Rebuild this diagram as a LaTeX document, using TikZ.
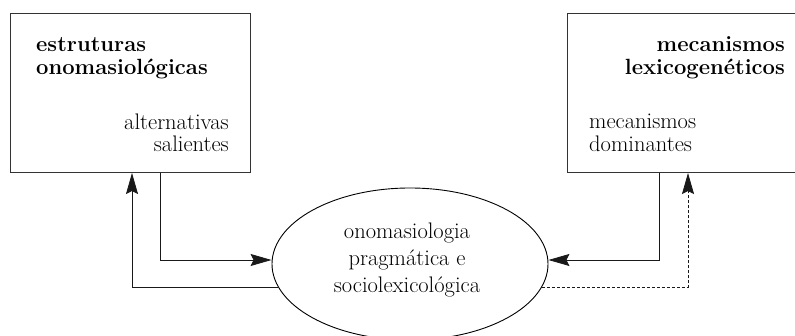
\documentclass[tikz,border=0pt]{standalone}
\usepackage{fontspec}
\usetikzlibrary{shapes.geometric,arrows.meta,calc}
\begin{document}
\begin{tikzpicture}[x=1pt,y=1pt,
  boxstyle/.style={draw=black!80,line width=1.1pt,rectangle,inner sep=0pt},
  ovalstyle/.style={draw=black,line width=0.9pt,ellipse,inner sep=0pt,minimum width=276pt,minimum height=152pt},
  lbl/.style={inner sep=0pt,font=\fontsize{22.5}{26}\selectfont,text=black},
  blbl/.style={inner sep=0pt,font=\fontsize{22}{26}\selectfont\bfseries,text=black},
  conn/.style={line width=0.8pt,draw=black!90},
  tip/.style={-{Stealth[length=21pt,width=12pt,inset=3pt]}}
]
\useasboundingbox (0,0) rectangle (795,336);
\clip (0,0) rectangle (795,336);
\node[boxstyle,minimum width=240pt,minimum height=159pt,anchor=south west] (L) at (10,163) {};
\node[boxstyle,minimum width=244pt,minimum height=159pt,anchor=south west] (R) at (567,163) {};
\node[ovalstyle] (E) at (410,72) {};
% left box texts
\node[blbl,anchor=base west] (l1) at (36,284) {estruturas};
\node[blbl,anchor=base west] (l2) at (36,261) {onomasiológicas};
\node[lbl,anchor=base east] (l3) at (229,206) {alternativas};
\node[lbl,anchor=base east] (l4) at (229,184) {salientes};
% right box texts
\node[blbl,anchor=base east] (r1) at (785,284) {mecanismos};
\node[blbl,anchor=base east] (r2) at (785,261) {lexicogenéticos};
\node[lbl,anchor=base west] (r3) at (589,207) {mecanismos};
\node[lbl,anchor=base west] (r4) at (589,184) {dominantes};
% ellipse texts
\node[lbl,anchor=base] (e1) at (407,97) {onomasiologia};
\node[lbl,anchor=base] (e2) at (407,70) {pragmática e};
\node[lbl,anchor=base] (e3) at (407,43) {sociolexicológica};
% coordinates
\coordinate (ldown) at ($(L.south west)+(150,0)$);
\coordinate (lup) at ($(L.south west)+(122,0)$);
\coordinate (rdown) at ($(R.south west)+(92,0)$);
\coordinate (rup) at ($(R.south west)+(121,0)$);
% connectors
\draw[conn,tip] (ldown) |- ([yshift=4pt]E.west);
\draw[conn,tip] (E.190) -| (lup);
\draw[conn,tip] (rdown) |- ([yshift=4pt]E.east);
\draw[conn,tip,dashed,dash pattern=on 3pt off 2pt] (E.350) -| (rup);
\end{tikzpicture}
\end{document}
